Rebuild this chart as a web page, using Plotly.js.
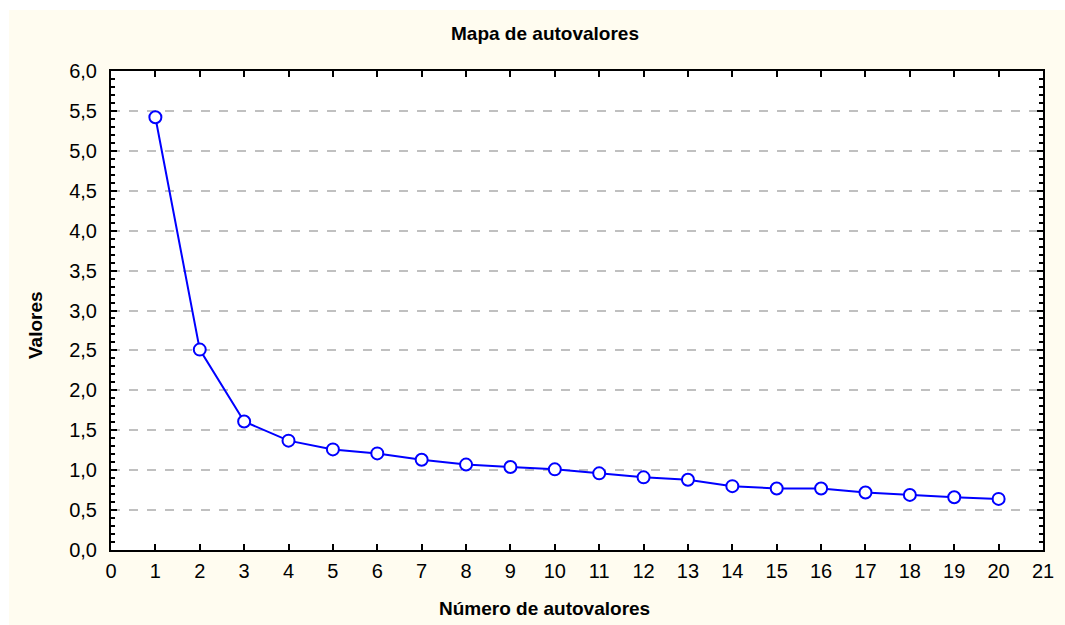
<!DOCTYPE html>
<html>
<head>
<meta charset="utf-8">
<script src="https://cdn.plot.ly/plotly-3.0.1.min.js"></script>
<style>
html,body{margin:0;padding:0;background:#ffffff;}
#chart{position:absolute;left:9px;top:10px;width:1056px;height:615px;}
</style>
</head>
<body>
<div id="chart"></div>
<script>
const numeros = [1,2,3,4,5,6,7,8,9,10,11,12,13,14,15,16,17,18,19,20];
const valores = [5.42,2.51,1.61,1.37,1.26,1.21,1.13,1.07,1.04,1.01,0.96,0.91,0.88,0.80,0.77,0.77,0.72,0.69,0.66,0.64];
const xTicks = [0,1,2,3,4,5,6,7,8,9,10,11,12,13,14,15,16,17,18,19,20,21];
const yTicks = [0,0.5,1,1.5,2,2.5,3,3.5,4,4.5,5,5.5,6];
const titulo = 'Mapa de autovalores';
const tituloX = 'Número de autovalores';
const tituloY = 'Valores';

const trace = {
  x: numeros, y: valores, type: 'scatter', mode: 'lines+markers',
  line: {color: '#0000ff', width: 2},
  marker: {symbol: 'circle', size: 12, color: '#ffffff', line: {color: '#0000ff', width: 2}},
  hoverinfo: 'x+y'
};

const font = {family: 'Liberation Sans, Arial, sans-serif', color: '#000000'};
const boldFont = Object.assign({size: 19, weight: 'bold'}, font);

// plot area in page px: left 111, right 1043, top 71, bottom 550
const W = 1043 - 111, H = 550 - 71;

const layout = {
  width: 1056, height: 615,
  paper_bgcolor: '#fffcf0', plot_bgcolor: '#ffffff',
  separators: ',.',
  margin: {l: 102, r: 22, t: 61, b: 75},
  showlegend: false,
  font: Object.assign({size: 20}, font),
  title: {text: titulo, font: boldFont, x: (545 - 9) / 1056, xanchor: 'center', y: 1 - 23/615, yanchor: 'middle'},
  xaxis: {
    range: [0, 21], tickmode: 'array', tickvals: xTicks, ticktext: xTicks.map(String),
    ticks: 'inside', ticklen: 6, tickwidth: 2, tickcolor: '#000',
    showline: true, linecolor: '#000', linewidth: 2, mirror: 'ticks',
    showgrid: false, zeroline: false,
    tickfont: Object.assign({size: 20}, font),
    ticklabelstandoff: 2
  },
  yaxis: {
    range: [0, 6], tickmode: 'array', tickvals: yTicks, ticktext: yTicks.map(v => v.toFixed(1).replace('.', ',')),
    ticks: 'inside', ticklen: 6, tickwidth: 2, tickcolor: '#000',
    showline: true, linecolor: '#000', linewidth: 2, mirror: 'ticks',
    showgrid: true, gridcolor: '#c0c0c0', griddash: 'dash', gridwidth: 1.5,
    zeroline: false,
    minor: {dtick: 0.1, ticks: 'inside', ticklen: 4, tickwidth: 2, tickcolor: '#000', showgrid: false},
    tickfont: Object.assign({size: 20}, font),
    ticklabelstandoff: 8
  },
  annotations: [
    {text: tituloX, xref: 'paper', yref: 'paper', x: (544 - 111) / W, y: (550 - 608) / H,
     xanchor: 'center', yanchor: 'middle', showarrow: false, font: boldFont},
    {text: tituloY, xref: 'paper', yref: 'paper', x: (35 - 111) / W, y: (550 - 325) / H,
     xanchor: 'center', yanchor: 'middle', showarrow: false, textangle: -90, font: boldFont}
  ]
};

Plotly.newPlot('chart', [trace], layout, {displayModeBar: false});
</script>
</body>
</html>
